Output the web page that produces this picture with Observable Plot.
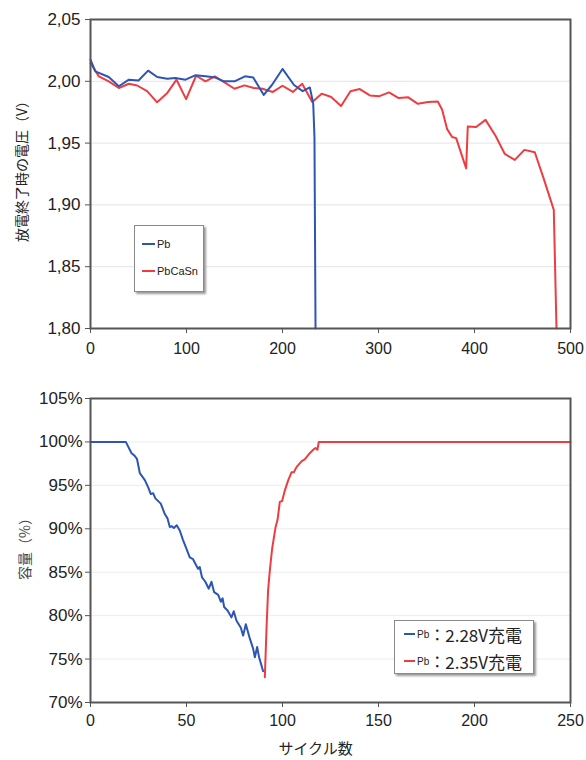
<!DOCTYPE html>
<html>
<head>
<meta charset="utf-8">
<script src="https://cdn.jsdelivr.net/npm/d3@7"></script>
<script src="https://cdn.jsdelivr.net/npm/@observablehq/plot@0.6"></script>
<style>
  html, body { margin: 0; padding: 0; background: #fff; }
  #wrap { position: relative; width: 586px; height: 760px; font-family: "Liberation Sans", "Noto Sans CJK JP", sans-serif; color: #222; }
  .chart { position: absolute; left: 0; }
  .legend { position: absolute; background: #fff; border: 1px solid #8a8a8a; box-shadow: 2px 2px 2px #9a9a9a; box-sizing: border-box; }
  .item { position: absolute; display: flex; align-items: center; white-space: nowrap; }
  .sw { display: inline-block; height: 1.5px; }
</style>
</head>
<body>
<div id="wrap"></div>
<script>
// ---- Top chart: end-of-discharge voltage vs cycles ----
const topXTicks = [0, 100, 200, 300, 400, 500];
const topYTicks = [1.80, 1.85, 1.90, 1.95, 2.00, 2.05];
const topYLabel = "放電終了時の電圧（V）";
const topSeriesNames = ["Pb", "PbCaSn"];

const pbCycles = [0, 5, 19, 29.5, 40, 50, 60, 69.5, 80, 88.5, 99, 109, 120, 130, 139, 150, 161, 169.5, 180.5, 189, 200, 212, 221, 228.5, 232, 233.3, 234.4];
const pbVoltage = [2.0175, 2.008, 2.0035, 1.996, 2.0013, 2.0007, 2.0086, 2.0035, 2.002, 2.0027, 2.0013, 2.0048, 2.004, 2.003, 2.000, 2.000, 2.004, 2.003, 1.989, 1.997, 2.010, 1.997, 1.992, 1.995, 1.982, 1.955, 1.80];

const pbcasnCycles = [0, 8.7, 19, 29.5, 40, 48.6, 59, 69.4, 80, 89.6, 99.6, 110, 119.8, 129.5, 140, 150, 160.4, 170, 179, 190, 200, 210.8, 220.5, 231, 240.8, 250.7, 261, 270.8, 280.5, 291, 301, 311, 321, 331, 341, 351.7, 361.8, 366.3, 371.5, 376.7, 380.9, 391.3, 393, 401.7, 411.5, 421.9, 431.6, 442, 452, 462.8, 472, 482.6, 485.4];
const pbcasnVoltage = [2.0148, 2.004, 2.000, 1.9946, 1.998, 1.9966, 1.992, 1.983, 1.9906, 2.0013, 1.9856, 2.0045, 2.000, 2.004, 1.999, 1.994, 1.9967, 1.9946, 1.994, 1.9914, 1.9964, 1.9914, 1.998, 1.9833, 1.990, 1.9873, 1.980, 1.992, 1.9937, 1.9886, 1.988, 1.991, 1.9864, 1.987, 1.9818, 1.9832, 1.9837, 1.977, 1.9613, 1.955, 1.954, 1.9296, 1.9634, 1.963, 1.9688, 1.956, 1.9412, 1.9364, 1.9445, 1.9426, 1.9215, 1.896, 1.80];

// ---- Bottom chart: capacity vs cycles ----
const botXTicks = [0, 50, 100, 150, 200, 250];
const botYTicks = [70, 75, 80, 85, 90, 95, 100, 105];
const botYLabel = "容量（%）";
const botXLabel = "サイクル数";
const botSeriesNames = ["2.28V充電", "2.35V充電"];

const cap228Cycles = [0, 18.4, 19.3, 21.4, 23, 24.2, 25.7, 28.3, 30, 31.4, 32.6, 33.8, 36.6, 38.7, 40.1, 41.3, 42.4, 43.4, 44.9, 46.5, 48.2, 50, 51.7, 53.4, 56, 56.9, 58.1, 59.8, 61.6, 63, 64.4, 66.5, 67.9, 68.8, 69.6, 71.4, 73.4, 74.6, 76, 78.3, 79.5, 80.9, 83, 84.7, 85.6, 86.8, 87.8, 89, 89.9];
const cap228Values = [100, 100, 99.6, 98.7, 98.4, 98.06, 96.4, 95.6, 94.8, 94.0, 94.1, 93.5, 92.9, 91.7, 91.2, 90.2, 90.3, 90.1, 90.4, 89.8, 88.7, 87.7, 86.7, 86.5, 85.4, 85.6, 84.4, 83.9, 83.1, 83.9, 82.7, 82.4, 81.6, 82.0, 81.0, 80.6, 79.8, 80.5, 79.45, 78.6, 77.7, 79.0, 77.35, 76.2, 75.2, 76.4, 75.2, 74.3, 73.6];

const cap235Cycles = [90.8, 91.7, 92.5, 93.4, 94.6, 96.4, 97.4, 98.6, 99.8, 101.2, 103, 104.7, 105.9, 107.3, 110, 111.6, 114.2, 116, 117.2, 118.2, 118.9, 250];
const cap235Values = [72.9, 78.7, 82.9, 85.2, 87.7, 90.2, 91.0, 93.1, 93.2, 94.4, 95.6, 96.5, 96.5, 97.1, 97.8, 98.0, 98.7, 99.1, 99.3, 99.1, 100, 100];

const BLUE = "#2d55b3";
const RED = "#f03c41";
const FONT = "'Liberation Sans', 'Noto Sans CJK JP', sans-serif";

const zip = (xs, ys) => xs.map((x, i) => ({x, y: ys[i]}));
const wrapEl = document.getElementById("wrap");

// Top plot
const topChart = Plot.plot({
  width: 586, height: 372,
  marginLeft: 90, marginRight: 16, marginTop: 19, marginBottom: 44,
  style: {fontFamily: FONT, color: "#222", background: "transparent"},
  x: {domain: [0, 500]},
  y: {domain: [1.80, 2.05]},
  marks: [
    Plot.ruleY(topYTicks.slice(1, -1), {stroke: "#e4e4e4", strokeWidth: 1}),
    Plot.axisY(topYTicks, {tickFormat: d => d3.format(".2f")(d).replace(".", ","), tickSize: 5, tickPadding: 5, fontSize: 17, label: null, stroke: "#555"}),
    Plot.axisX(topXTicks, {tickSize: 5, tickPadding: 9, fontSize: 16, label: null, stroke: "#555"}),
    Plot.text([topYLabel], {frameAnchor: "left", textAnchor: "middle", rotate: -90, dx: -68, dy: -6, fontSize: 14, fill: "#222", fontFamily: "'Noto Sans CJK JP', sans-serif"}),
    Plot.line(zip(pbcasnCycles, pbcasnVoltage), {x: "x", y: "y", stroke: RED, strokeWidth: 2}),
    Plot.line(zip(pbCycles, pbVoltage), {x: "x", y: "y", stroke: BLUE, strokeWidth: 2}),
    Plot.frame({stroke: "#555", strokeWidth: 2})
  ]
});
topChart.classList.add("chart");
topChart.style.top = "0px";
wrapEl.appendChild(topChart);

// Bottom plot
const botChart = Plot.plot({
  width: 586, height: 390,
  marginLeft: 90, marginRight: 16, marginTop: 28, marginBottom: 58,
  style: {fontFamily: FONT, color: "#222", background: "transparent"},
  x: {domain: [0, 250]},
  y: {domain: [70, 105]},
  marks: [
    Plot.ruleY(botYTicks.slice(1, -1), {stroke: "#ececec", strokeWidth: 1}),
    Plot.axisY(botYTicks, {tickFormat: d => d + "%", tickSize: 5, tickPadding: 3, fontSize: 17, label: null, stroke: "#555"}),
    Plot.axisX(botXTicks, {tickSize: 5, tickPadding: 7, fontSize: 16, label: null, stroke: "#555"}),
    Plot.text([botYLabel], {frameAnchor: "left", textAnchor: "middle", rotate: -90, dx: -65, dy: -5, fontSize: 14, fill: "#444", fontFamily: "'Noto Sans CJK JP', sans-serif"}),
    Plot.text([botXLabel], {frameAnchor: "bottom", dy: 51, dx: -15, fontSize: 15, fill: "#222", fontFamily: "'Noto Sans CJK JP', sans-serif"}),
    Plot.line(zip(cap235Cycles, cap235Values), {x: "x", y: "y", stroke: RED, strokeWidth: 2}),
    Plot.line(zip(cap228Cycles, cap228Values), {x: "x", y: "y", stroke: BLUE, strokeWidth: 2}),
    Plot.frame({stroke: "#555", strokeWidth: 2})
  ]
});
botChart.classList.add("chart");
botChart.style.top = "370px";
wrapEl.appendChild(botChart);

// Legends (HTML)
function legend(box, items) {
  const d = document.createElement("div");
  d.className = "legend";
  Object.assign(d.style, {left: box.left + "px", top: box.top + "px", width: box.width + "px", height: box.height + "px"});
  items.forEach(it => {
    const row = document.createElement("div");
    row.className = "item";
    row.style.left = it.left + "px";
    row.style.top = it.top + "px";
    row.style.height = "20px";
    const sw = document.createElement("span");
    sw.className = "sw";
    sw.style.width = it.sw + "px";
    sw.style.background = it.color;
    sw.style.marginRight = "2px";
    row.appendChild(sw);
    it.parts.forEach(p => {
      const s = document.createElement("span");
      s.textContent = p.text;
      s.style.fontSize = p.size + "px";
      if (p.font) s.style.fontFamily = p.font;
      row.appendChild(s);
    });
    d.appendChild(row);
  });
  wrapEl.appendChild(d);
}

legend({left: 134, top: 225, width: 70, height: 67}, [
  {left: 7, top: 8, sw: 13, color: BLUE, parts: [{text: topSeriesNames[0], size: 11}]},
  {left: 7, top: 35, sw: 13, color: RED, parts: [{text: topSeriesNames[1], size: 11}]}
]);

legend({left: 394, top: 620, width: 140, height: 54}, [
  {left: 9, top: 3, sw: 11, color: BLUE, parts: [{text: "Pb", size: 10}, {text: "：", size: 16, font: "'Noto Sans CJK JP'"}, {text: botSeriesNames[0], size: 17, font: "'Noto Sans CJK JP'"}]},
  {left: 9, top: 30, sw: 11, color: RED, parts: [{text: "Pb", size: 10}, {text: "：", size: 16, font: "'Noto Sans CJK JP'"}, {text: botSeriesNames[1], size: 17, font: "'Noto Sans CJK JP'"}]}
]);
</script>
</body>
</html>
